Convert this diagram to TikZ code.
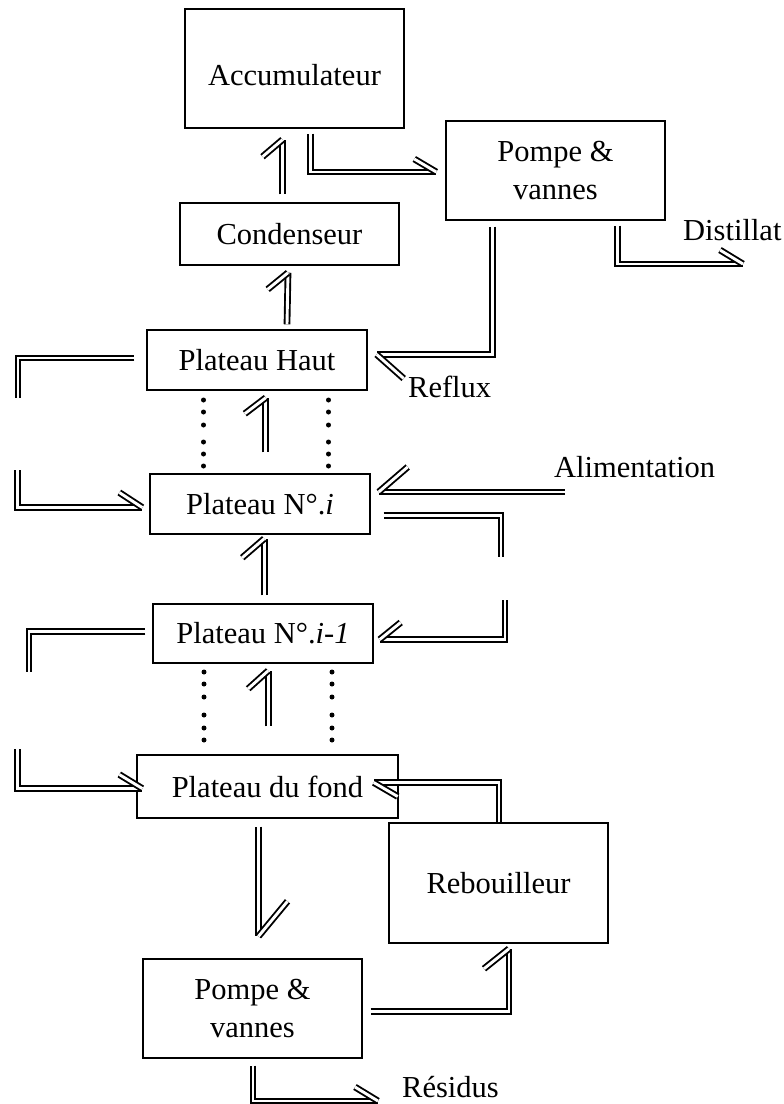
\documentclass[tikz,border=0pt]{standalone}
\usepackage{fontspec}
\setmainfont{Liberation Serif}
\usetikzlibrary{decorations.markings}
\begin{document}
\begin{tikzpicture}[x=1pt,y=-1pt,
  txt/.style={font=\fontsize{30.5}{38}\selectfont},
  box/.style={draw, line width=1.4pt, inner sep=0pt, txt, align=center},
  lbl/.style={inner sep=0pt, txt},
  pipe/.style={draw, line width=1.9pt, double=white, double distance=2.9pt, line join=miter},
  tick/.style 2 args={postaction={decorate, decoration={markings,
      mark=at position 1 with {\draw[pipe] (0pt,0pt) -- (-#1pt,#2pt);}}}}
]
\fill[white] (0,0) rectangle (784,1104);
\useasboundingbox (0,0) rectangle (784,1104);

% units and equipment
\node[box, minimum width=219pt, minimum height=119pt, text height=34pt, text depth=0pt] (acc) at (294.5,68.5) {Accumulateur};
\node[box, minimum width=219pt, minimum height=99pt]  (pv1)  at (555.5,170.5) {Pompe \&\\vannes};
\node[box, minimum width=219pt, minimum height=62pt]  (cond) at (289.5,234)   {Condenseur};
\node[box, minimum width=220pt, minimum height=60pt]  (ph)   at (257,360)     {Plateau Haut};
\node[box, minimum width=220pt, minimum height=60pt]  (pi)   at (260,504)     {Plateau N°.\textit{i}};
\node[box, minimum width=220pt, minimum height=59pt]  (pim)  at (263,633.5)   {Plateau N°.\textit{i-1}};
\node[box, minimum width=261pt, minimum height=63pt]  (pf)   at (267.5,786.5) {Plateau du fond};
\node[box, minimum width=219pt, minimum height=120pt] (reb)  at (498.5,883)   {Rebouilleur};
\node[box, minimum width=219pt, minimum height=99pt]  (pv2)  at (252.5,1008.5){Pompe \&\\vannes};

% stream labels
\node[lbl, anchor=base west] (tdist) at (683,240)  {Distillat};
\node[lbl, anchor=base west] (trefl) at (408,397)  {Reflux};
\node[lbl, anchor=base west] (talim) at (554,477)  {Alimentation};
\node[lbl, anchor=base west] (tres)  at (402,1097) {Résidus};

% free ends of the streams
\coordinate (distend) at (743,264);
\coordinate (lt1) at (18,398);
\coordinate (lt2) at (17.5,470);
\coordinate (alim) at (565,492);
\coordinate (rt1) at (501,557);
\coordinate (rt2) at (505,600);
\coordinate (lt3) at (29,672);
\coordinate (lt4) at (17.5,749);
\coordinate (resend) at (378,1101);

% top of the column
\draw[pipe, tick={17}{20}] ([xshift=-7pt,yshift=8pt]cond.north) -- ([xshift=-12pt,yshift=-11pt]acc.south);
\draw[pipe, tick={22}{13}] ([xshift=16pt,yshift=-5pt]acc.south) |- ([xshift=-9pt,yshift=-1.5pt]pv1.west);
\draw[pipe, tick={23}{14}] ([xshift=62pt,yshift=-5pt]pv1.south) |- (distend);
\draw[pipe, tick={27}{24}] ([xshift=-63pt,yshift=-6pt]pv1.south) |- ([xshift=9pt,yshift=5.5pt]ph.east);
\draw[pipe, tick={17}{20}] ([xshift=30pt,yshift=5pt]ph.north) -- ([xshift=-1.5pt,yshift=-7pt]cond.south);

% trays
\draw[pipe] ([xshift=-12pt,yshift=2pt]ph.west) -| (lt1);
\draw[pipe, tick={23}{15}] (lt2) |- ([xshift=-7pt,yshift=-3.5pt]pi.west);
\draw[pipe, tick={16}{21}] ([xshift=5.8pt,yshift=21pt]pi.north) -- ([xshift=8.8pt,yshift=-7pt]ph.south);
\draw[pipe, tick={29}{-25}] (alim) -- ([xshift=8pt,yshift=12pt]pi.east);
\draw[pipe] ([xshift=13pt,yshift=-11.5pt]pi.east) -| (rt1);
\draw[pipe, tick={21}{-17}] (rt2) |- ([xshift=6pt,yshift=-6pt]pim.east);
\draw[pipe, tick={19}{22}] ([xshift=1.2pt,yshift=8pt]pim.north) -- ([xshift=4.2pt,yshift=-4pt]pi.south);
\draw[pipe] ([xshift=-7pt,yshift=2pt]pim.west) -| (lt3);
\draw[pipe, tick={23}{14}] (lt4) |- ([xshift=6pt,yshift=-2pt]pf.west);
\draw[pipe, tick={18}{20}] ([xshift=0.7pt,yshift=28pt]pf.north) -- ([xshift=5.2pt,yshift=-7pt]pim.south);

% bottom of the column
\draw[pipe, tick={24}{14}] ([xshift=0.5pt]reb.north) |- ([xshift=-25pt,yshift=4pt]pf.east);
\draw[pipe, tick={35}{29}] ([xshift=-9pt,yshift=-8pt]pf.south) -- ([xshift=6pt,yshift=22pt]pv2.north);
\draw[pipe, tick={20}{25}] ([xshift=8pt,yshift=-3pt]pv2.east) -| ([xshift=10.5pt,yshift=-5pt]reb.south);
\draw[pipe, tick={23}{14}] ([xshift=0.5pt,yshift=-7pt]pv2.south) |- (resend);

% trays left out between the drawn ones
\foreach \x in {203.5,328.5}
  \foreach \y in {400,412,425,442,454,466}
    \fill (\x,\y) circle[radius=2.5pt];
\foreach \x in {204,332}
  \foreach \y in {672,684,697,715,728,740}
    \fill (\x,\y) circle[radius=2.5pt];
\end{tikzpicture}
\end{document}
